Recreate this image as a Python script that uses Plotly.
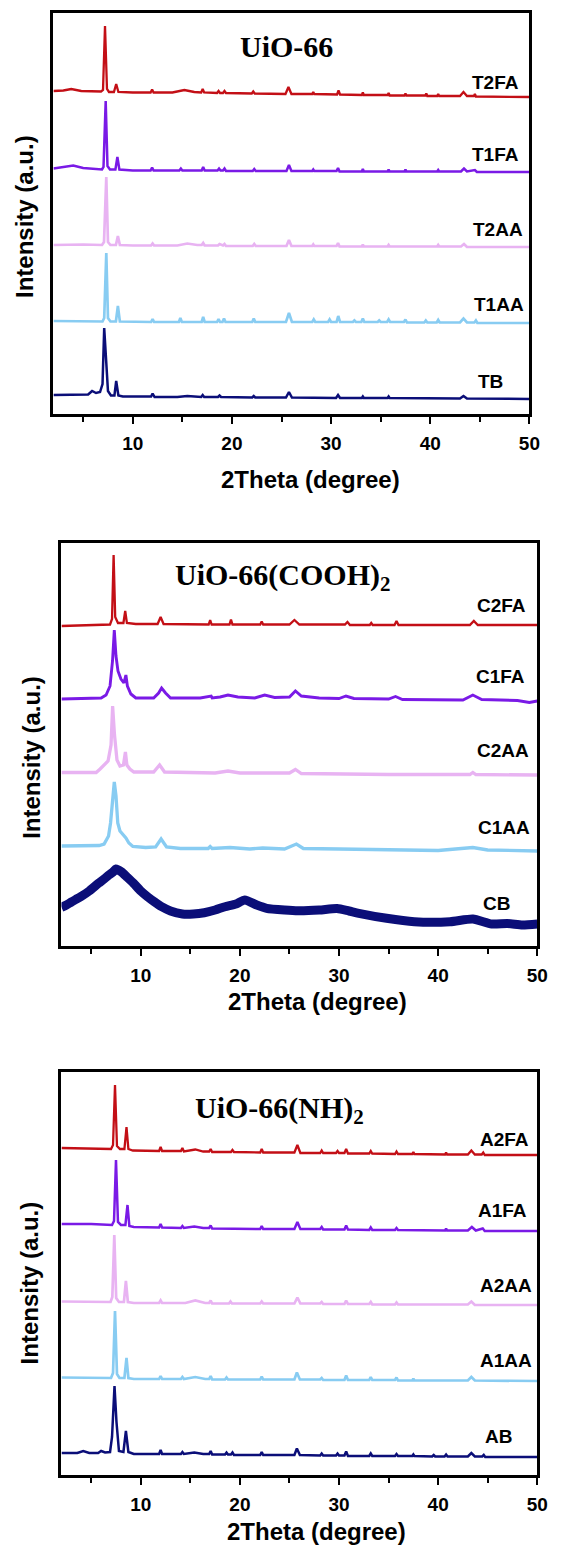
import plotly.graph_objects as go

# ---------------- data ----------------
# intensity (a.u.) above each pattern's own baseline; x = 2Theta (degree)
T2FA = [(2,6),(3,6.5),(3.8,8),(4.8,6),(6.8,5.5),(7.0,7),(7.2,71),(7.4,8),(7.6,5),(8.1,5),(8.33,13),(8.55,5),(10,4.5),(11.8,4.5),(11.95,7.5),(12.1,4.5),(14.0,4.5),(15.2,7),(16.2,5),(16.9,4.5),(17.05,8),(17.2,4.5),(18.5,4),(18.65,6),(18.8,4),(19.1,4),(19.25,6),(19.4,4),(22.0,3.5),(22.15,5.5),(22.3,3.5),(25.4,3),(25.7,10),(26.0,3),(28.1,3),(28.2,5),(28.3,3),(30.6,2.5),(30.75,6.5),(30.9,2.5),(33.1,2),(33.2,4.5),(33.3,2),(35.7,2),(35.8,4),(35.9,1.5),(37.4,1.5),(37.5,3.5),(37.6,1.5),(39.5,1.5),(39.6,3.5),(39.7,1),(40.7,1),(40.8,3),(40.9,1),(43.0,1),(43.35,5),(43.7,1),(44.4,1),(44.5,3),(44.6,0.5),(50,0)]
T1FA = [(2,3.5),(3,5),(4,6.5),(5,4),(6.9,2.5),(7.05,5),(7.27,71),(7.45,6),(7.7,2.5),(8.25,2.5),(8.45,15),(8.65,2.5),(10,1.5),(11.8,1.5),(11.95,4.5),(12.1,1.5),(14.7,1.5),(14.85,3.5),(15.0,1.5),(16.95,1.5),(17.1,5),(17.25,1.5),(18.55,1.5),(18.7,3.5),(18.85,1.5),(19.1,1.5),(19.25,3.5),(19.4,1),(22.1,1),(22.25,3),(22.4,1),(25.5,1),(25.75,7),(26.0,1),(28.1,1),(28.2,2.5),(28.3,1),(30.55,1),(30.7,4),(30.85,0.5),(33.1,0.5),(33.2,3),(33.3,0.5),(35.7,0.5),(35.8,2.5),(35.9,0.5),(37.4,0.5),(37.5,2.5),(37.6,0.5),(40.7,0.5),(40.8,2),(40.9,0.5),(43.1,0.5),(43.4,3.5),(43.7,0.5),(44.5,2),(44.7,0),(50,0)]
T2AA = [(2,2),(5,2.5),(6.9,2),(7.1,5),(7.33,70),(7.5,5),(7.75,2),(8.3,2),(8.5,11),(8.7,2),(10,1.5),(11.85,1.5),(12.0,3.5),(12.15,1.5),(14.5,1.5),(15.5,3.5),(16.5,2),(16.95,2),(17.1,4),(17.25,1.5),(18.6,1.5),(18.75,3),(19.1,1.5),(19.25,3),(19.4,1),(22.1,1),(22.25,3),(22.4,1),(25.5,1),(25.75,7),(26.0,1),(28.1,1),(28.2,2.5),(28.3,1),(30.55,1),(30.7,4),(30.85,0.5),(33.1,0.5),(33.2,2.5),(33.3,0.5),(35.7,0.5),(35.8,2),(35.9,0.5),(40.7,0.5),(40.8,2),(40.9,0.5),(43.1,0.5),(43.4,3),(43.7,0),(50,0)]
T1AA = [(2,2),(5,2),(6.95,1.5),(7.12,5),(7.33,70),(7.5,5),(7.75,1.5),(8.3,1.5),(8.5,17),(8.7,1.5),(10,1),(11.85,1),(12.0,4),(12.15,1),(14.65,1),(14.8,5),(14.95,1),(16.95,1),(17.1,6),(17.25,1),(18.5,1),(18.65,4),(18.8,1),(19.05,1),(19.2,4.5),(19.35,1),(22.05,1),(22.2,4.5),(22.35,1),(25.45,1),(25.75,10),(26.05,1),(28.1,1),(28.25,3.5),(28.4,1),(29.7,1),(29.85,3.5),(30.0,1),(30.55,1),(30.72,7),(30.9,1),(32.2,1),(32.35,2.5),(32.5,1),(33.05,1),(33.2,4.5),(33.35,1),(34.7,1),(34.85,2.5),(35.0,1),(35.65,1),(35.8,3.5),(35.95,1),(37.35,1),(37.5,3.5),(37.65,0.5),(39.4,0.5),(39.55,2.5),(39.7,0.5),(40.65,0.5),(40.8,3),(40.95,0.5),(43.0,0.5),(43.35,4.5),(43.7,0.5),(44.45,0.5),(44.6,2.5),(44.75,0),(50,0)]
TB = [(2,4),(4,4),(5.5,4.5),(5.9,8),(6.3,6),(6.7,7),(6.95,15),(7.12,71),(7.3,40),(7.5,8),(7.8,3.5),(8.15,3.5),(8.33,18),(8.55,3.5),(9,2.5),(10,2.5),(11.85,2.5),(12.0,5.5),(12.2,2),(14.5,2),(15.5,3),(16.9,2),(17.05,4),(17.2,2),(18.6,2),(18.75,3.5),(18.9,2),(22.05,1.5),(22.2,3),(22.35,1.5),(25.45,1.5),(25.75,7),(26.05,1.5),(30.5,1),(30.7,4),(30.9,1),(33.1,1),(33.2,2.5),(33.3,1),(35.7,1),(35.8,2.5),(35.9,1),(43.0,0.5),(43.35,3),(43.7,0.5),(50,0)]

C2FA = [(2,-1),(5,0),(6.9,0.5),(7.1,6),(7.26,70),(7.42,8),(7.7,2),(8.25,2),(8.43,14),(8.6,2),(9.5,1),(11.7,1),(12.0,8),(12.3,1),(14.5,0.5),(16.85,0.5),(17.0,5),(17.15,0.5),(18.95,0.5),(19.1,5.5),(19.25,0.5),(22.05,0.5),(22.2,3.5),(22.35,0.5),(25.0,0.5),(25.5,5),(26.0,0.5),(30.6,0.5),(30.85,3),(31.1,0),(33.1,0),(33.25,2),(33.4,0),(35.6,0),(35.8,4),(36.0,0),(43.2,0),(43.6,4),(44.0,0),(50,0)]
C1FA = [(2,2),(4,2.5),(6.0,3),(6.5,6),(6.9,15),(7.15,40),(7.33,71),(7.5,45),(7.7,30),(8.0,22),(8.3,18),(8.5,26),(8.65,15),(9.0,7),(9.5,3),(11.3,3),(11.8,8),(12.1,13),(12.5,8),(13.0,3),(16.0,3),(17.1,5),(17.2,3),(18.0,4),(18.8,6),(19.8,4),(21.5,3),(22.5,6),(23.5,3.5),(25.0,4),(25.6,10),(26.2,5),(28.0,3),(30.0,2.5),(30.7,5),(31.5,2.5),(35.0,2),(35.7,4.5),(36.4,1.5),(42.5,1),(43.5,6),(44.4,1.5),(48,0.5),(49.2,-1.5),(50,0)]
C2AA = [(2,2.5),(5.5,2.5),(5.9,6),(6.3,10),(6.7,14),(7.0,30),(7.16,69),(7.35,40),(7.6,15),(7.9,9),(8.25,10),(8.45,23),(8.6,10),(8.9,6),(9.3,3),(11.3,3),(11.9,10),(12.4,3),(14,2.5),(17.5,2),(18.8,4),(20,2),(25.0,2),(25.6,5.5),(26.2,1.5),(30,1),(35,0.5),(43.2,0.5),(43.5,2.5),(43.8,0.5),(50,0)]
C1AA = [(2,5),(4.5,5),(5.8,5.5),(6.3,7),(6.75,15),(6.95,28),(7.15,55),(7.33,69),(7.5,55),(7.68,28),(7.9,20),(8.2,17),(8.5,13),(8.8,8),(9.2,4.5),(10.5,3.5),(11.5,4),(12.05,12),(12.6,4),(14,2.5),(16.8,2.5),(17.0,4.5),(17.2,2.5),(19.0,3.5),(21,2),(22.3,3),(24.5,2),(25.7,7),(26.4,2.5),(30,2),(35,1.5),(40,0.5),(43.5,3.5),(45,1),(50,0)]
CB = [(2,38.7),(2.5,41),(3.0,44),(3.95,49.3),(4.8,55),(5.73,62.7),(6.3,67),(6.78,71),(7.2,74),(7.5,77),(8.03,74.3),(8.6,69),(9.27,62.7),(10.0,55),(10.68,49.3),(11.4,44),(12.1,39.3),(13.0,35),(14.2,32),(15.3,32),(16.4,33.3),(17.5,36),(18.5,39.3),(19.6,42),(20.5,46),(21.7,41),(22.7,37.7),(24.5,36),(25.9,35.3),(28,36),(29.8,37.5),(31,35),(32.0,32.7),(34.8,27.7),(37.6,24.3),(41.2,24.3),(43.5,27),(45.4,22),(47,22.5),(48.5,21),(50,22)]

A2FA = [(2,7),(5,6.5),(7.0,6),(7.2,10),(7.4,70),(7.6,9),(7.9,6),(8.35,6),(8.56,28),(8.75,6),(9.2,4.5),(11.85,4),(12.0,8),(12.15,4),(14.05,4),(14.2,7),(14.35,3.5),(15.5,5.5),(16.3,3.5),(16.9,3.5),(17.05,6),(17.2,3),(19.1,3),(19.25,5),(19.4,3),(22.05,2.5),(22.2,6),(22.35,2.5),(25.5,2.5),(25.8,10),(26.1,2),(28.1,2),(28.25,4.5),(28.4,2),(29.7,2),(29.85,4),(30.0,2),(30.55,2),(30.72,6),(30.9,1.5),(33.05,1.5),(33.2,4),(33.35,1.5),(35.65,1),(35.8,3.5),(35.95,1),(37.4,1),(37.5,3),(37.6,1),(40.7,0.5),(40.8,2.5),(40.9,0.5),(43.0,0.5),(43.35,4.5),(43.7,0.5),(44.4,0.5),(44.55,2.5),(44.7,0),(50,0)]
A1FA = [(2,7),(5,7),(7.1,6),(7.3,10),(7.5,71),(7.7,9),(8.0,6),(8.45,6),(8.66,26),(8.85,5),(9.3,4),(11.85,3.5),(12.0,7),(12.15,3.5),(14.05,3),(14.2,5),(14.35,3),(15.4,4.5),(16.3,3),(16.9,3),(17.05,5.5),(17.2,2.5),(22.05,2),(22.2,5),(22.35,2),(25.5,2),(25.8,9),(26.1,2),(28.1,2),(28.25,4),(28.4,1.5),(30.55,1.5),(30.72,5.5),(30.9,1.5),(33.05,1),(33.2,3.5),(33.35,1),(35.65,1),(35.8,3),(35.95,1),(40.7,0.5),(40.8,2.5),(40.9,0.5),(43.0,0.5),(43.4,4),(43.8,0.5),(44.5,2.5),(44.7,0),(50,0)]
A2AA = [(2,3.5),(5,3.5),(6.95,3),(7.13,8),(7.33,70),(7.52,7),(7.8,3),(8.3,3),(8.5,24),(8.7,3),(9.3,2),(11.85,2),(12.0,4.5),(12.15,2),(14.5,2),(15.5,4.5),(16.5,2),(16.9,2),(17.05,4.5),(17.2,1.5),(18.9,1.5),(19.05,3.5),(19.2,1.5),(22.05,1.5),(22.2,3.5),(22.35,1.5),(25.5,1.5),(25.8,7.5),(26.1,1.5),(28.1,1.5),(28.25,3),(28.4,1),(30.55,1),(30.72,4.5),(30.9,1),(33.05,1),(33.2,3),(33.35,0.5),(35.65,0.5),(35.8,2.5),(35.95,0.5),(43.0,0.5),(43.35,3.5),(43.7,0),(50,0)]
A1AA = [(2,3.5),(5,3.5),(7.0,3),(7.2,8),(7.4,70),(7.6,7),(7.85,3),(8.35,3),(8.56,23),(8.75,3),(9.3,2),(11.85,2),(12.0,5),(12.15,2),(14.05,2),(14.2,4),(14.35,2),(15.5,4),(16.5,2),(16.9,2),(17.05,5),(17.2,1.5),(18.5,1.5),(18.65,3.5),(18.8,1.5),(22.05,1.5),(22.2,4.5),(22.35,1.5),(25.5,1.5),(25.75,8.5),(26.05,1.5),(28.1,1.5),(28.25,3),(28.4,1),(30.55,1),(30.72,5.5),(30.9,1),(33.05,1),(33.2,4),(33.35,1),(35.65,1),(35.8,3.5),(35.95,0.5),(37.4,0.5),(37.5,2.5),(37.6,0.5),(43.0,0.5),(43.35,4),(43.7,0.5),(50,0)]
AB = [(2,4),(3.6,4),(4.2,6),(4.8,4),(5.7,4),(6.0,6),(6.4,4.5),(6.9,5),(7.1,20),(7.35,71),(7.55,35),(7.8,6),(8.25,5),(8.5,26),(8.75,5),(9.3,3),(11.85,3),(12.0,7),(12.15,3),(14.05,3),(14.2,5),(14.35,3),(15.4,4.5),(16.3,3),(16.9,3),(17.05,6),(17.2,2.5),(18.5,2.5),(18.65,4.5),(18.8,2.5),(19.1,2.5),(19.25,4.5),(19.4,2),(22.05,2),(22.2,5),(22.35,2),(25.5,2),(25.75,8.5),(26.05,2),(28.1,1.5),(28.25,3.5),(28.4,1.5),(29.7,1.5),(29.85,3.5),(30.0,1.5),(30.55,1.5),(30.72,5.5),(30.9,1),(33.05,1),(33.2,3.5),(33.35,1),(35.65,1),(35.8,3),(35.95,1),(37.4,1),(37.5,2.5),(37.6,1),(39.4,0.5),(39.55,2),(39.7,0.5),(40.65,0.5),(40.8,2.5),(40.95,0.5),(43.0,0.5),(43.35,4),(43.7,0.5),(44.45,0.5),(44.6,2),(44.75,0),(50,0)]

PANEL_TITLES = ["UiO-66", "UiO-66(COOH)<sub>2</sub>", "UiO-66(NH)<sub>2</sub>"]
PANEL_NAMES = [["T2FA", "T1FA", "T2AA", "T1AA", "TB"],
               ["C2FA", "C1FA", "C2AA", "C1AA", "CB"],
               ["A2FA", "A1FA", "A2AA", "A1AA", "AB"]]
PANEL_DATA = [[T2FA, T1FA, T2AA, T1AA, TB],
              [C2FA, C1FA, C2AA, C1AA, CB],
              [A2FA, A1FA, A2AA, A1AA, AB]]
X_TICKS = [10, 20, 30, 40, 50]
X_TITLE = "2Theta (degree)"
Y_TITLE = "Intensity (a.u.)"

# ---------------- styling / layout ----------------
COLORS = ["#c30f16", "#7a1ae6", "#e8b3f2", "#88ccf2", "#0b0e78"]
OFFSETS = [[317, 242, 167, 91, 15],
           [321, 245, 171, 95, 0],
           [320, 244, 170, 94, 18]]
WIDTHS = [[2.3, 2.5, 2.7, 2.7, 2.5],
          [2.3, 2.9, 3.3, 3.3, 9.0],
          [2.3, 2.5, 2.7, 2.7, 2.5]]

W, H = 562, 1546
# panel frames in pixels: left, right, top, bottom
FRAMES = [(54.5, 540, 13, 414), (62.7, 548, 543, 946), (62.7, 548, 1072, 1475)]
TITLE_POS = [(292, 46.7), (288.5, 577), (285, 1110)]
XT_POS = [(317, 480), (324, 1001.7), (323, 1531.7)]
YT_POS = [(25, 216.5), (32, 757.5), (30.5, 1282.5)]
LABEL_POS = [[(531, 82.7), (531, 154), (535, 230), (536, 305), (515, 381.7)],
             [(538.5, 605), (538, 676.7), (542, 750), (543, 827), (522.5, 903)],
             [(541.5, 1139), (540, 1210.7), (545, 1285), (545, 1360), (524, 1436.7)]]

SANS = "Liberation Sans, Arial, sans-serif"
SERIF = "Liberation Serif, Times New Roman, serif"

fig = go.Figure()
annotations = []
layout = dict(width=W, height=H, margin=dict(l=0, r=0, t=0, b=0),
              paper_bgcolor="white", plot_bgcolor="white", showlegend=False)

def px(xp):
    return xp / W

def py(yp):
    return 1 - yp / H

for p in range(3):
    l, r, t, b = FRAMES[p]
    sfx = "" if p == 0 else str(p + 1)
    xa, ya = "x" + sfx, "y" + sfx
    for k in range(5):
        pts = PANEL_DATA[p][k]
        thick = WIDTHS[p][k] > 5
        fig.add_trace(go.Scatter(
            x=[q[0] for q in pts],
            y=[q[1] + OFFSETS[p][k] for q in pts],
            mode="lines", xaxis=xa, yaxis=ya,
            line=dict(color=COLORS[k], width=WIDTHS[p][k],
                      shape="spline" if thick else "linear", smoothing=0.6),
            name=PANEL_NAMES[p][k], hoverinfo="skip"))
        lx, ly = LABEL_POS[p][k]
        annotations.append(dict(x=px(lx), y=py(ly), xref="paper", yref="paper",
                                text=PANEL_NAMES[p][k], showarrow=False,
                                xanchor="right", yanchor="middle",
                                font=dict(family=SANS, size=19, color="black", weight="bold")))
    layout["xaxis" + sfx] = dict(
        domain=[px(l), px(r)], anchor=ya, range=[2, 50],
        showline=True, mirror=True, linecolor="black", linewidth=2.5,
        ticks="outside", ticklen=7, tickwidth=2, tickcolor="black",
        tickmode="array", tickvals=X_TICKS, ticktext=[str(v) for v in X_TICKS],
        ticklabelstandoff=3,
        tickfont=dict(family=SANS, size=19, color="black", weight="bold"),
        minor=dict(ticks="outside", tickvals=[5, 15, 25, 35, 45], ticklen=5,
                   tickwidth=2, tickcolor="black", showgrid=False),
        showgrid=False, zeroline=False)
    layout["yaxis" + sfx] = dict(
        domain=[py(b), py(t)], anchor=xa, range=[0, b - t],
        showline=True, mirror=True, linecolor="black", linewidth=2.5,
        ticks="", showticklabels=False, showgrid=False, zeroline=False)
    tx, ty = TITLE_POS[p]
    annotations.append(dict(x=px(tx), y=py(ty), xref="paper", yref="paper",
                            text=PANEL_TITLES[p], showarrow=False,
                            xanchor="center", yanchor="middle",
                            font=dict(family=SERIF, size=30, color="black", weight="bold")))
    xx, xy = XT_POS[p]
    annotations.append(dict(x=px(xx), y=py(xy), xref="paper", yref="paper",
                            text=X_TITLE, showarrow=False,
                            xanchor="center", yanchor="middle",
                            font=dict(family=SANS, size=24, color="black", weight="bold")))
    yx, yy = YT_POS[p]
    annotations.append(dict(x=px(yx), y=py(yy), xref="paper", yref="paper",
                            text=Y_TITLE, showarrow=False, textangle=-90,
                            xanchor="center", yanchor="middle",
                            font=dict(family=SANS, size=24, color="black", weight="bold")))

layout["annotations"] = annotations
fig.update_layout(**layout)
fig.write_html("out.html")
